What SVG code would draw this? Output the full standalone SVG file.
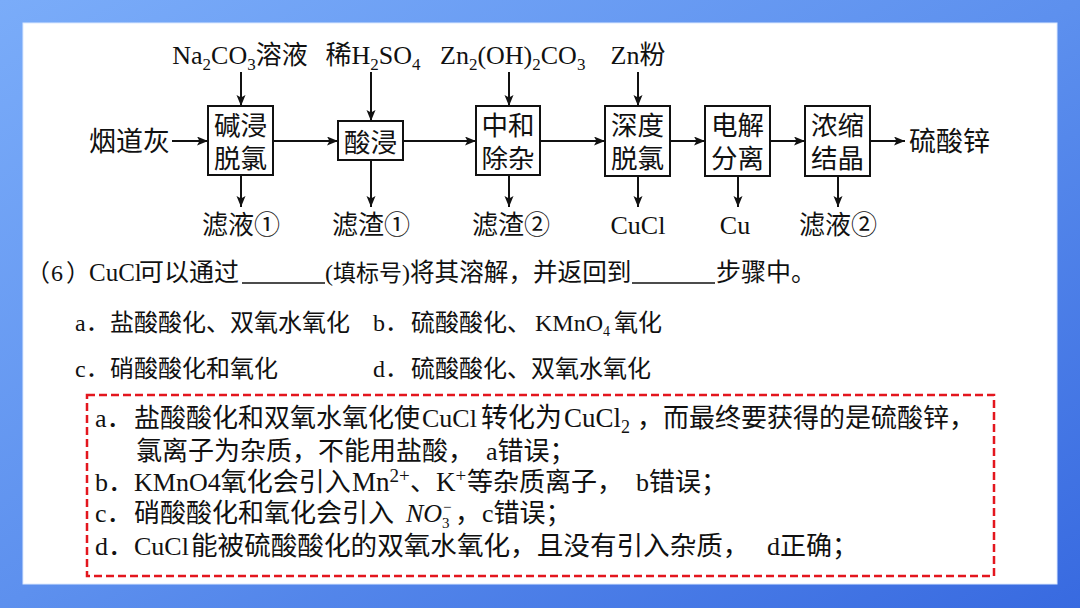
<svg xmlns="http://www.w3.org/2000/svg" width="1080" height="608" viewBox="0 0 1080 608">
  <defs>
    <linearGradient id="bg" x1="0" y1="0" x2="1" y2="1">
      <stop offset="0" stop-color="#7aacf9"/>
      <stop offset="0.5" stop-color="#5d90ee"/>
      <stop offset="1" stop-color="#386ae0"/>
    </linearGradient>
    <marker id="ah" markerUnits="userSpaceOnUse" markerWidth="12" markerHeight="10" refX="11" refY="4.5" orient="auto">
      <path d="M0,0 L11,4.5 L0,9 L2.5,4.5 z" fill="#111"/>
    </marker>
    <style>
      .t { font-family: "Liberation Serif", "Noto Sans CJK SC", serif; fill: #111; }
      .lab { font-size: 26px; }
      .bx { fill: #fff; stroke: #111; stroke-width: 2; }
      .bt { font-family: "Noto Sans CJK SC", sans-serif; font-size: 26.5px; fill: #111; text-anchor: middle; }
      .ln { stroke: #111; stroke-width: 2; fill: none; marker-end: url(#ah); }
      .q { font-size: 24px; }
      .r { font-size: 26px; }
      .m { text-anchor: middle; }
    </style>
  </defs>

  <rect x="0" y="0" width="1080" height="608" fill="url(#bg)"/>
  <rect x="23" y="23" width="1034" height="561" fill="#ffffff" stroke="#dce9ff" stroke-width="1"/>

  <!-- connectors -->
  <g id="connectors">
    <line class="ln" x1="172" y1="141" x2="208" y2="141"/>
    <line class="ln" x1="273" y1="141" x2="338" y2="141"/>
    <line class="ln" x1="403" y1="141" x2="476" y2="141"/>
    <line class="ln" x1="540" y1="141" x2="605" y2="141"/>
    <line class="ln" x1="670" y1="141" x2="705" y2="141"/>
    <line class="ln" x1="770" y1="141" x2="805" y2="141"/>
    <line class="ln" x1="870" y1="141" x2="905" y2="141"/>
    <line class="ln" x1="241" y1="72" x2="241" y2="106"/>
    <line class="ln" x1="371" y1="72" x2="371" y2="121"/>
    <line class="ln" x1="509" y1="72" x2="509" y2="106"/>
    <line class="ln" x1="638" y1="72" x2="638" y2="106"/>
    <line class="ln" x1="241" y1="175" x2="241" y2="207"/>
    <line class="ln" x1="371" y1="160" x2="371" y2="207"/>
    <line class="ln" x1="509" y1="175" x2="509" y2="207"/>
    <line class="ln" x1="638" y1="176" x2="638" y2="207"/>
    <line class="ln" x1="738" y1="176" x2="738" y2="207"/>
    <line class="ln" x1="838" y1="176" x2="838" y2="207"/>
  </g>

  <!-- process nodes -->
  <g id="node-jianjin">
    <rect class="bx" x="208" y="106" width="65" height="69"/>
    <text class="bt"><tspan x="240.5" y="134.5">碱浸</tspan><tspan x="240.5" y="167.5">脱氯</tspan></text>
  </g>
  <g id="node-suanjin">
    <rect class="bx" x="338" y="121" width="65" height="39"/>
    <text class="bt" x="370.5" y="152">酸浸</text>
  </g>
  <g id="node-zhonghe">
    <rect class="bx" x="476" y="106" width="64" height="69"/>
    <text class="bt"><tspan x="508" y="134.5">中和</tspan><tspan x="508" y="167.5">除杂</tspan></text>
  </g>
  <g id="node-shendu">
    <rect class="bx" x="605" y="106" width="65" height="70"/>
    <text class="bt"><tspan x="637.5" y="134.5">深度</tspan><tspan x="637.5" y="167.5">脱氯</tspan></text>
  </g>
  <g id="node-dianjie">
    <rect class="bx" x="705" y="106" width="65" height="70"/>
    <text class="bt"><tspan x="737.5" y="134.5">电解</tspan><tspan x="737.5" y="167.5">分离</tspan></text>
  </g>
  <g id="node-nongsuo">
    <rect class="bx" x="805" y="106" width="65" height="70"/>
    <text class="bt"><tspan x="837.5" y="134.5">浓缩</tspan><tspan x="837.5" y="167.5">结晶</tspan></text>
  </g>

  <!-- input / output labels -->
  <g id="node-yandaohui"><text class="t" x="89" y="151" font-size="27">烟道灰</text></g>
  <g id="node-liusuanxin"><text class="t" x="909" y="151" font-size="27">硫酸锌</text></g>
  <g id="node-na2co3"><text class="t lab m" x="240" y="64">Na<tspan font-size="17" dy="6">2</tspan><tspan dy="-6">CO</tspan><tspan font-size="17" dy="6">3</tspan><tspan dy="-6">溶液</tspan></text></g>
  <g id="node-h2so4"><text class="t lab m" x="373" y="64">稀H<tspan font-size="17" dy="6">2</tspan><tspan dy="-6">SO</tspan><tspan font-size="17" dy="6">4</tspan></text></g>
  <g id="node-zn2oh2co3"><text class="t lab" x="440" y="64">Zn<tspan font-size="17" dy="6">2</tspan><tspan dy="-6">(OH)</tspan><tspan font-size="17" dy="6">2</tspan><tspan dy="-6">CO</tspan><tspan font-size="17" dy="6">3</tspan></text></g>
  <g id="node-znfen"><text class="t lab m" x="638" y="64">Zn粉</text></g>
  <g id="node-lvye1"><text class="t lab m" x="241" y="234">滤液①</text></g>
  <g id="node-lvzha1"><text class="t lab m" x="371" y="234">滤渣①</text></g>
  <g id="node-lvzha2"><text class="t lab m" x="511" y="234">滤渣②</text></g>
  <g id="node-cucl"><text class="t lab m" x="638" y="234">CuCl</text></g>
  <g id="node-cu"><text class="t lab m" x="735" y="234">Cu</text></g>
  <g id="node-lvye2"><text class="t lab m" x="838" y="234">滤液②</text></g>

  <!-- question -->
  <g id="question">
    <text class="t q" y="281"><tspan x="26">（</tspan><tspan x="51">6</tspan><tspan x="66">）</tspan><tspan x="89" font-size="25">CuCl</tspan><tspan x="139" font-size="25">可以通过</tspan><tspan x="325">(</tspan><tspan font-size="23">填标号</tspan><tspan>)</tspan><tspan x="410" font-size="24.6">将其溶解，并返回到</tspan><tspan x="716" font-size="25">步骤中。</tspan></text>
    <line x1="242" y1="283" x2="325" y2="283" stroke="#111" stroke-width="1.5"/>
    <line x1="632" y1="283" x2="715" y2="283" stroke="#111" stroke-width="1.5"/>
    <text class="t q" y="331"><tspan x="75">a．</tspan><tspan x="110">盐酸酸化、双氧水氧化</tspan></text>
    <text class="t q" y="331"><tspan x="373">b．</tspan><tspan x="411">硫酸酸化、</tspan><tspan x="535">KMnO</tspan><tspan font-size="14" dy="5">4</tspan><tspan x="614" dy="-5">氧化</tspan></text>
    <text class="t q" y="377"><tspan x="75">c．</tspan><tspan x="110">硝酸酸化和氧化</tspan></text>
    <text class="t q" y="377"><tspan x="373">d．</tspan><tspan x="411">硫酸酸化、双氧水氧化</tspan></text>
  </g>

  <!-- answer box -->
  <g id="answer">
    <rect x="87" y="395" width="907" height="181" fill="none" stroke="#e3161e" stroke-width="2.5" stroke-dasharray="8 4"/>
    <text class="t r" y="427"><tspan x="95">a．</tspan><tspan x="134">盐酸酸化和双氧水氧化使</tspan><tspan x="422">CuCl</tspan><tspan x="481" font-size="27">转化为</tspan><tspan x="564" font-size="27">CuCl</tspan><tspan font-size="18" dy="6">2</tspan><tspan x="637" dy="-6">，</tspan><tspan x="663">而最终要获得的是硫酸锌，</tspan></text>
    <text class="t r" y="460"><tspan x="136">氯离子为杂质，</tspan><tspan x="318">不能用盐酸，</tspan><tspan x="486">a错误；</tspan></text>
    <text class="t r" y="491"><tspan x="95">b．</tspan><tspan x="134">KMnO4氧化会引入</tspan><tspan x="352" font-size="27">Mn</tspan><tspan font-size="19" dy="-9">2+</tspan><tspan x="410" dy="9">、</tspan><tspan x="436" font-size="27">K</tspan><tspan font-size="19" dy="-9">+</tspan><tspan x="467" dy="9">等杂质离子，</tspan><tspan x="636">b错误；</tspan></text>
    <text class="t r" y="522"><tspan x="95">c．</tspan><tspan x="134">硝酸酸化和氧化会引入</tspan><tspan x="406" font-style="italic">NO</tspan><tspan x="442" font-size="15" dy="6">3</tspan><tspan x="443" font-size="15" dy="-16">−</tspan><tspan x="455" dy="10">，</tspan><tspan x="482">c错误；</tspan></text>
    <text class="t r" y="555"><tspan x="95">d．</tspan><tspan x="134">CuCl</tspan><tspan x="191" font-size="26.6">能被硫酸酸化的双氧水氧化，且没有引入杂质，</tspan><tspan x="767">d正确；</tspan></text>
  </g>
</svg>
